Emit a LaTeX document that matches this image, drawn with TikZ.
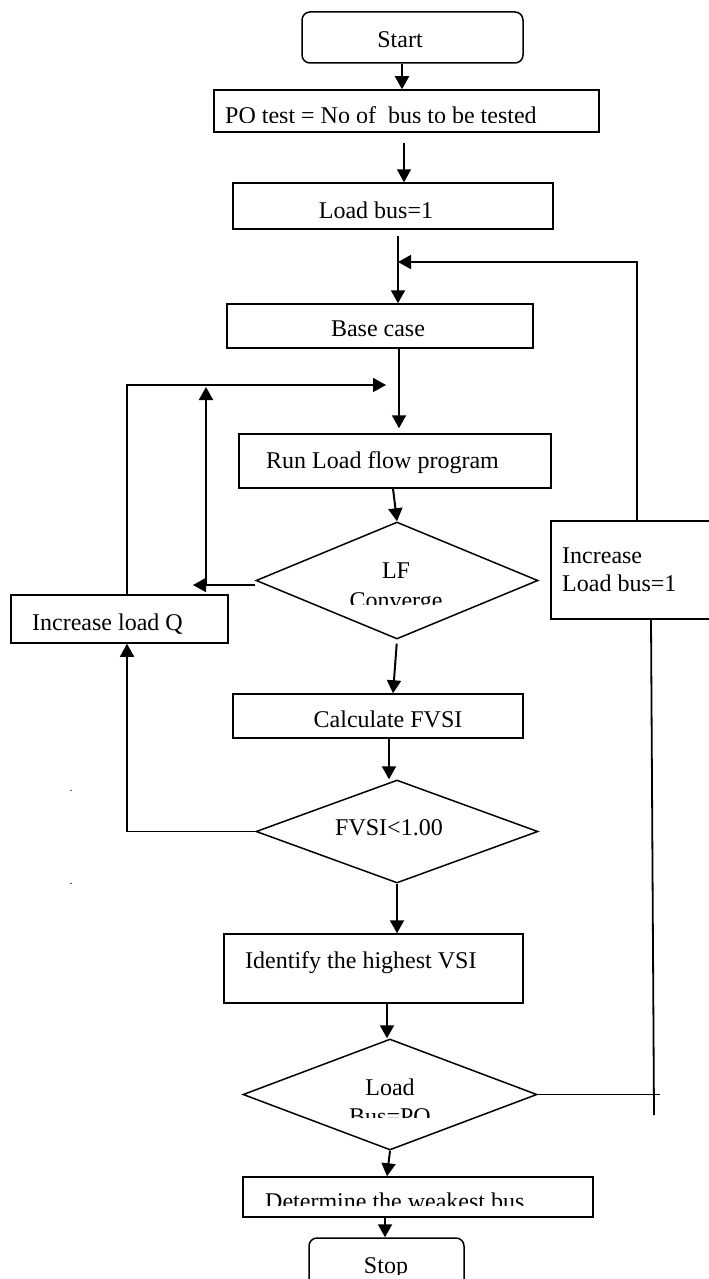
\documentclass[tikz,border=0pt]{standalone}
\usepackage{fontspec}
\setmainfont{Liberation Serif}
\usetikzlibrary{arrows.meta,shapes.geometric}
\begin{document}
\begin{tikzpicture}[x=1pt,y=-1pt,
  box/.style={draw, line width=1.5pt, rectangle, inner sep=0pt},
  term/.style={box, rounded corners=8pt},
  dia/.style={draw, line width=1.5pt, diamond, inner sep=0pt},
  lbl/.style={inner sep=0pt, anchor=base, font=\fontsize{24}{28}\selectfont},
  lbll/.style={lbl, anchor=base west},
  dotlbl/.style={inner sep=0pt, anchor=base, font=\fontsize{12}{12}\selectfont},
  arr/.style={line width=2pt, -{Triangle[length=13pt,width=14pt]}},
  lline/.style={line width=1.5pt},
  mline/.style={line width=1.8pt},
  llarr/.style={lline, -{Triangle[length=13pt,width=14pt]}}]
\useasboundingbox (0,0) rectangle (709,1279);
\clip (0,0) rectangle (709,1279);

% nodes
\node[term, minimum width=221pt, minimum height=51pt] (start) at (412.5,37.5) {};
\node[box, minimum width=385pt, minimum height=42pt] (po) at (406.5,111) {};
\node[box, minimum width=320pt, minimum height=46pt] (lb1) at (393,206) {};
\node[box, minimum width=306pt, minimum height=44pt] (base) at (380,326) {};
\node[box, minimum width=312pt, minimum height=54pt] (run) at (395,461) {};
\node[dia, minimum width=282pt, minimum height=117pt] (lf) at (397,580.5) {};
\node[box, minimum width=217pt, minimum height=48pt] (incq) at (119.5,619) {};
\node[box, minimum width=189pt, minimum height=98pt] (incbus) at (645.5,570) {};
\node[box, minimum width=290pt, minimum height=44pt] (calc) at (378,716) {};
\node[dia, minimum width=282pt, minimum height=103pt] (fvsi) at (397,831.5) {};
\node[box, minimum width=299pt, minimum height=69pt] (ident) at (373.5,968.5) {};
\node[dia, minimum width=294pt, minimum height=111pt] (lbpo) at (390,1094.5) {};
\node[box, minimum width=350pt, minimum height=40pt] (det) at (418,1197) {};
\node[term, minimum width=155pt, minimum height=52pt] (stop) at (386.5,1264) {};

% texts
\node[lbl] (tstart) at (400,48) {Start};
\begin{scope}
  \clip (215,91) rectangle (598,122.5);
  \node[lbll] (tpo) at (225,124) {PO test = No of\ \ bus to be tested};
\end{scope}
\node[lbl] (tlb1) at (376,218) {Load bus=1};
\node[lbl] (tbase) at (378,336) {Base case};
\node[lbll] (trun) at (266,468) {Run Load flow program};
\node[lbl] (tlf) at (396,578) {LF};
\begin{scope}
  \clip (300,585) rectangle (500,604);
  \node[lbl] (tconv) at (396,608) {Converge};
\end{scope}
\node[lbll] (tincq) at (32,630) {Increase load Q};
\node[lbll] (tinc1) at (562,563) {Increase};
\node[lbll] (tinc2) at (562,591) {Load bus=1};
\node[lbl] (tcalc) at (388,727) {Calculate FVSI};
\node[lbl] (tfvsi) at (389,835) {FVSI<1.00};
\node[lbll] (tident) at (245,968) {Identify the highest VSI};
\node[lbl] (tload) at (390,1095) {Load};
\begin{scope}
  \clip (300,1100) rectangle (480,1117);
  \node[lbl] (tbuspo) at (390,1124) {Bus=PO};
\end{scope}
\begin{scope}
  \clip (244,1178) rectangle (592,1205);
  \node[lbll] (tdet) at (265,1209) {Determine the weakest bus};
\end{scope}
\begin{scope}
  \clip (310,1239) rectangle (463,1274);
  \node[lbl] (tstop) at (386,1273) {Stop};
\end{scope}
\node[dotlbl] (dot1) at (71,791) {.};
\node[dotlbl] (dot2) at (71,884) {.};

% reference coordinates
\coordinate (X402) at (402,0);
\coordinate (X404) at (404,0);
\coordinate (X398) at (398,0);
\coordinate (X399) at (399,0);
\coordinate (X393) at (393,0);
\coordinate (X389) at (389,0);
\coordinate (X387) at (387,0);
\coordinate (X385) at (385,0);
\coordinate (X127) at (127,0);
\coordinate (X637) at (637,0);
\coordinate (X651) at (651,0);
\coordinate (j1) at (398,262);
\coordinate (j2) at (386,385);
\coordinate (j3) at (193,585);
\coordinate (j4) at (206,585);
\coordinate (j5) at (206,387);
\coordinate (j6) at (660,1094.5);
\coordinate (j7) at (654,1115);

% connectors
\draw[arr] (start.south -| X402) -- (po.north -| X402);
\draw[arr, shorten <=10pt] (po.south -| X404) -- (lb1.north -| X404);
\draw[arr, shorten <=6pt] (lb1.south -| X398) -- (base.north -| X398);
\draw[llarr] (incbus.north -| X637) |- (j1);
\draw[arr, shorten >=5pt] (base.south -| X399) -- (run.north -| X399);
\draw[llarr] (incq.north -| X127) |- (j2);
\draw[arr] (lf.west |- j3) -- (j3);
\draw[arr] (j4) -- (j5);
\draw[arr] (run.south -| X393) -- (lf.north);
\draw[arr, shorten <=4pt] (lf.south) -- (calc.north -| X393);
\draw[arr] (calc.south -| X389) -- (fvsi.north -| X389);
\draw[mline] (fvsi.west) -- (fvsi.west -| X127);
\draw[llarr] (fvsi.west -| X127) -- (incq.south -| X127);
\draw[arr] (fvsi.south) -- (ident.north -| fvsi.south);
\draw[arr] (ident.south -| X387) -- (lbpo.north -| X387);
\draw[mline] (lbpo.east) -- (j6);
\draw[mline] (incbus.south -| X651) -- (j7);
\draw[arr] (lbpo.south) -- (det.north -| X387);
\draw[arr] (det.south -| X385) -- (stop.north -| X385);
\end{tikzpicture}
\end{document}
